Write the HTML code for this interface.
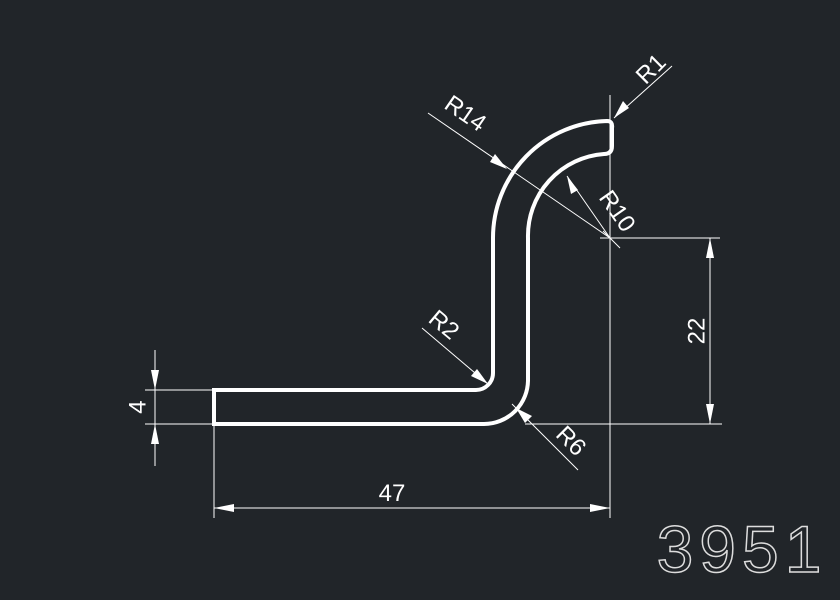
<!DOCTYPE html>
<html><head><style>
html,body{margin:0;padding:0;background:#212529;}
svg{display:block}
text{font-family:"Liberation Sans",sans-serif;fill:#fff;}
</style></head><body>
<svg width="840" height="600" viewBox="0 0 840 600" xmlns="http://www.w3.org/2000/svg">
<rect width="840" height="600" fill="#212529"/>
<g stroke="#fff" stroke-width="1" fill="none">
<line x1="610" y1="95" x2="610" y2="518"/>
<line x1="600" y1="238" x2="720" y2="238"/>
<line x1="525" y1="424" x2="722" y2="424"/>
<line x1="710" y1="238" x2="710" y2="424"/>
<line x1="214" y1="424" x2="214" y2="518"/>
<line x1="214" y1="508" x2="610" y2="508"/>
<line x1="145" y1="390" x2="214" y2="390"/>
<line x1="145" y1="424" x2="214" y2="424"/>
<line x1="155" y1="350" x2="155" y2="466"/>
<line x1="428" y1="113" x2="610" y2="238"/>
<line x1="610" y1="238" x2="567" y2="176"/>
<line x1="614" y1="118" x2="672" y2="66"/>
<line x1="422" y1="328" x2="488" y2="384"/>
<line x1="512" y1="404" x2="578" y2="470"/>
<line x1="603" y1="231" x2="620" y2="248"/>
</g>
<g fill="#fff">
<polygon points="710,238 706,258 714,258"/>
<polygon points="710,424 706,404 714,404"/>
<polygon points="214,508 234,504 234,512"/>
<polygon points="610,508 590,504 590,512"/>
<polygon points="155,390 151,370 159,370"/>
<polygon points="155,424 151,444 159,444"/>
<polygon points="507,169 490,162 495,154"/>
<polygon points="567,176 578,190 571,194"/>
<polygon points="614,118 623,101 629,108"/>
<polygon points="488,384 471,376 477,369"/>
<polygon points="516,408 532,416 525,423"/>
</g>
<path d="M214,390 L476,390 A17,17 0 0 0 493,373 L493,238 A117,117 0 0 1 607,121 Q613,121 612,128 L612,146 Q612,154 604,154 A82,82 0 0 0 528,238 L528,380 A44,44 0 0 1 484,424 L214,424 Z" fill="none" stroke="#fff" stroke-width="4"/>
<g font-size="24">
<text x="698" y="331" transform="rotate(-90 698 331)" text-anchor="middle" dominant-baseline="middle">22</text>
<text x="392" y="501" text-anchor="middle">47</text>
<text x="139" y="407" transform="rotate(-90 139 407)" text-anchor="middle" dominant-baseline="middle">4</text>
<text x="461" y="120" transform="rotate(34.5 461 120)" text-anchor="middle">R14</text>
<text x="616" y="212" transform="rotate(55 616 212)" text-anchor="middle" dominant-baseline="middle">R10</text>
<text x="652" y="70" transform="rotate(-45 652 70)" text-anchor="middle" dominant-baseline="middle">R1</text>
<text x="443" y="326" transform="rotate(40 443 326)" text-anchor="middle" dominant-baseline="middle">R2</text>
<text x="570" y="442" transform="rotate(45 570 442)" text-anchor="middle" dominant-baseline="middle">R6</text>
</g>
<text x="742" y="572" font-size="66" text-anchor="middle" style="fill:none;stroke:#ddd;stroke-width:1.5;letter-spacing:6px">3951</text>
</svg>
</body></html>
